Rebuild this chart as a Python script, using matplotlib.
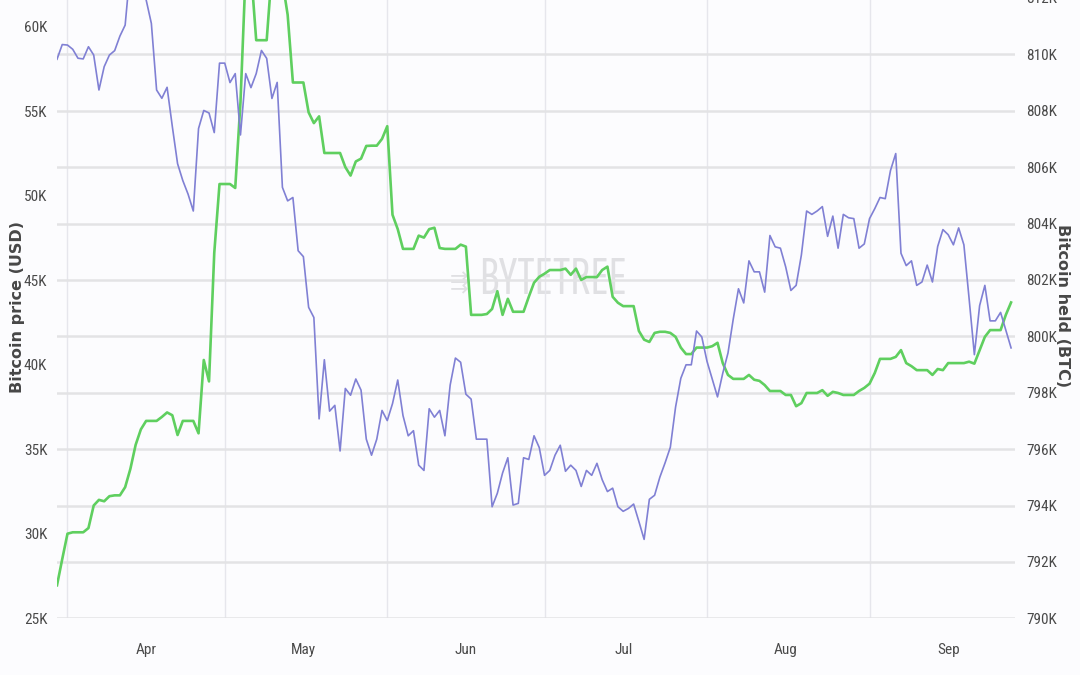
import numpy as np
import matplotlib
matplotlib.use("Agg")
import matplotlib.pyplot as plt
import matplotlib.dates as mdates
from matplotlib.ticker import FixedLocator, FuncFormatter, NullFormatter
from matplotlib.font_manager import FontProperties
from matplotlib import font_manager as fm

# ---------------- data ----------------
start_date = "2021-03-30"
end_date = "2021-09-29"  # exclusive
dates = np.arange(start_date, end_date, dtype="datetime64[D]")

price_k = [
    58.08, 58.95, 58.92, 58.67, 58.14, 58.10, 58.82, 58.33, 56.26, 57.64,
    58.33, 58.59, 59.45, 60.10, 63.5, 62.9, 63.3, 61.6, 60.2, 56.26,
    55.77, 56.42, 54.1, 51.9, 50.9, 50.1, 49.1, 53.98, 55.05, 54.9,
    53.74, 57.85, 57.85, 56.7, 57.23, 53.6, 57.23, 56.4, 57.23, 58.6,
    58.13, 55.76, 56.71, 50.5, 49.7, 49.9, 46.75, 46.4, 43.4, 42.8,
    36.8, 40.3, 37.26, 37.6, 34.9, 38.6, 38.2, 39.16, 38.5, 35.6,
    34.65, 35.6, 37.3, 36.7, 37.7, 39.1, 37.0, 35.8, 36.1, 34.06,
    33.75, 37.4, 36.9, 37.3, 35.8, 38.8, 40.4, 40.15, 38.26, 37.97,
    35.6, 35.6, 35.6, 31.6, 32.4, 33.6, 34.5, 31.7, 31.8, 34.5,
    34.4, 35.8, 35.1, 33.46, 33.75, 34.65, 35.24, 33.7, 34.06, 33.75,
    32.8, 33.75, 33.46, 34.17, 33.2, 32.5, 32.7, 31.6, 31.33, 31.5,
    31.76, 30.73, 29.67, 32.04, 32.28, 33.35, 34.2, 35.12, 37.5, 39.2,
    40.0, 40.0, 42.0, 41.65, 40.2, 39.16, 38.1, 39.5, 40.7, 42.7,
    44.5, 43.66, 46.15, 45.5, 45.5, 44.3, 47.65, 46.98, 46.9, 45.8,
    44.4, 44.7, 46.5, 49.1, 48.9, 49.1, 49.36, 47.6, 48.8, 46.9,
    48.9, 48.7, 48.65, 46.9, 47.15, 48.65, 49.24, 49.9, 49.83, 51.5,
    52.5, 46.6, 45.87, 46.15, 44.7, 44.9, 45.9, 44.9, 47.0, 48.0,
    47.7, 47.1, 48.1, 47.1, 43.9, 40.6, 43.5, 44.7, 42.6, 42.6,
    43.1, 42.05, 41.0,
]

held_k = [
    791.17, 792.1, 793.0, 793.05, 793.05, 793.05, 793.2, 794.0, 794.2, 794.15,
    794.33, 794.36, 794.36, 794.65, 795.3, 796.15, 796.7, 797.0, 797.0, 797.0,
    797.14, 797.3, 797.2, 796.5, 797.0, 797.0, 797.0, 796.56, 799.16, 798.4,
    802.96, 805.4, 805.4, 805.4, 805.26, 808.3, 813.0, 813.0, 810.5, 810.5,
    810.5, 813.0, 813.0, 812.6, 811.4, 809.0, 809.0, 809.0, 807.94, 807.56,
    807.8, 806.5, 806.5, 806.5, 806.5, 806.0, 805.7, 806.2, 806.3, 806.75,
    806.76, 806.76, 807.0, 807.45, 804.31, 803.8, 803.1, 803.1, 803.1, 803.57,
    803.5, 803.8, 803.85, 803.13, 803.1, 803.1, 803.1, 803.25, 803.18, 800.76,
    800.76, 800.76, 800.79, 800.97, 801.6, 800.76, 801.33, 800.87, 800.87, 800.87,
    801.4, 801.9, 802.11, 802.22, 802.35, 802.35, 802.35, 802.4, 802.18, 802.4,
    802.0, 802.1, 802.1, 802.1, 802.35, 802.47, 801.4, 801.19, 801.07, 801.07,
    801.07, 800.19, 799.88, 799.8, 800.12, 800.16, 800.16, 800.12, 799.98, 799.6,
    799.37, 799.37, 799.6, 799.6, 799.6, 799.65, 799.77, 799.05, 798.63, 798.49,
    798.49, 798.49, 798.63, 798.46, 798.42, 798.27, 798.06, 798.06, 798.06, 797.92,
    797.92, 797.52, 797.63, 797.99, 797.99, 797.99, 798.09, 797.89, 798.03, 797.99,
    797.92, 797.92, 797.92, 798.06, 798.17, 798.32, 798.7, 799.2, 799.2, 799.2,
    799.27, 799.51, 799.05, 798.94, 798.8, 798.8, 798.8, 798.63, 798.84, 798.8,
    799.05, 799.05, 799.05, 799.05, 799.1, 799.03, 799.51, 799.98, 800.22, 800.22,
    800.22, 800.76, 801.2,
]

price_ticks_k = [25, 30, 35, 40, 45, 50, 55, 60]
held_ticks_k = [790, 792, 794, 796, 798, 800, 802, 804, 806, 808, 810, 812]
month_starts = ["2021-04-01", "2021-05-01", "2021-06-01", "2021-07-01", "2021-08-01", "2021-09-01"]
month_label_dates = ["2021-04-16", "2021-05-16", "2021-06-16", "2021-07-16", "2021-08-16", "2021-09-16"]
month_labels = ["Apr", "May", "Jun", "Jul", "Aug", "Sep"]
price_title = "Bitcoin price (USD)"
held_title = "Bitcoin held (BTC)"
watermark = "BYTETREE"


# ---------------- fonts ----------------
def pick(cands, **kw):
    for c in cands:
        try:
            fm.findfont(FontProperties(family=c, **kw), fallback_to_default=False)
            return c
        except Exception:
            continue
    return "DejaVu Sans"


TICK_FONT = pick(["Roboto Condensed", "Archivo Narrow", "Barlow Condensed",
                  "Fira Sans Extra Condensed", "Liberation Sans Narrow"])
WM_FONT = pick(["Saira Extra Condensed", "Sofia Sans Extra Condensed", "League Gothic",
                "Fira Sans Extra Condensed", "Barlow Condensed"])

# ---------------- style ----------------
W, H, DPI = 1080, 675, 100
BG = "#fcfcfe"
PURPLE = "#8080d4"
GREEN = "#5fcf5f"
TICK_COLOR = "#4a4a4a"
WM_COLOR = "#e0e0e3"

fig = plt.figure(figsize=(W / DPI, H / DPI), dpi=DPI, facecolor=BG)

# plot area in pixels (top-origin): left 57, right 1015, bottom 618.3, top -30 (cropped view)
left_px, right_px, bottom_px, top_px = 57, 1015, 618.3, -30
ax = fig.add_axes([left_px / W, 1 - bottom_px / H, (right_px - left_px) / W, (bottom_px - top_px) / H])
ax.patch.set_visible(False)
ax2 = ax.twinx()
ax2.patch.set_visible(False)

# held axis (right side, owns horizontal grid)
held_top = 790 + (bottom_px - top_px) / 28.2
ax.set_ylim(790, held_top)
ax.yaxis.tick_right()
ax.yaxis.set_major_locator(FixedLocator(held_ticks_k))
ax.yaxis.set_major_formatter(FuncFormatter(lambda v, p: f"{int(round(v))}K"))
ax.grid(axis="y", color="#e3e3e5", linewidth=1.8, zorder=0)
ax.plot(dates, held_k, color=GREEN, linewidth=1.9, zorder=3, solid_joinstyle="round")

# price axis (left side)
price_top = 25 + (bottom_px - top_px) / 16.9
ax2.set_ylim(25, price_top)
ax2.yaxis.tick_left()
ax2.yaxis.set_major_locator(FixedLocator(price_ticks_k))
ax2.yaxis.set_major_formatter(FuncFormatter(lambda v, p: f"{int(round(v))}K"))
ax2.plot(dates, price_k, color=PURPLE, linewidth=1.2, zorder=3, solid_joinstyle="round")

# x axis
x0 = np.datetime64(start_date, "h")
x1 = x0 + np.timedelta64(int(182.75 * 24), "h")
ax.set_xlim(x0, x1)
ax.xaxis.set_major_locator(FixedLocator(mdates.date2num(np.array(month_starts, dtype="datetime64[D]"))))
ax.xaxis.set_major_formatter(NullFormatter())
ax.xaxis.set_minor_locator(FixedLocator(mdates.date2num(np.array(month_label_dates, dtype="datetime64[D]"))))
ax.xaxis.set_minor_formatter(FuncFormatter(lambda v, p: month_labels[p] if p is not None and p < len(month_labels) else ""))
ax.grid(axis="x", which="major", color="#e6e6ec", linewidth=1.0, zorder=0)
ax.tick_params(axis="x", which="both", length=0, pad=18)
for lab in ax.get_xticklabels(minor=True):
    lab.set_fontfamily([TICK_FONT, "DejaVu Sans"])
    lab.set_fontsize(11)
    lab.set_color(TICK_COLOR)

ax.tick_params(axis="y", length=0, pad=8)
ax2.tick_params(axis="y", length=0, pad=7)
for lab in ax.get_yticklabels() + ax2.get_yticklabels():
    lab.set_fontfamily([TICK_FONT, "DejaVu Sans"])
    lab.set_fontsize(11)
    lab.set_color(TICK_COLOR)

for a in (ax, ax2):
    for s in a.spines.values():
        s.set_visible(False)

# axis titles
fig.text(18 / W, 1 - 307 / H, price_title, rotation=90, ha="center", va="center",
         fontsize=11.5, fontweight="bold", color="#474747", family="DejaVu Sans")
fig.text(1062 / W, 1 - 306 / H, held_title, rotation=-90, ha="center", va="center",
         fontsize=11.5, fontweight="bold", color="#474747", family="DejaVu Sans")

# watermark (light, condensed text in the middle of the plot)
wm = fig.text(553 / W, 1 - 281 / H, watermark, ha="center", va="center",
              fontsize=40, color=WM_COLOR, family=[WM_FONT, "DejaVu Sans"],
              fontweight="light", zorder=-1)
icon = fig.text(459 / W, 1 - 283 / H, "\u21f6", ha="center", va="center",
                fontsize=16, color=WM_COLOR, family="DejaVu Sans", zorder=-1)
fig.canvas.draw()
r = fig.canvas.get_renderer()
bb = wm.get_window_extent(r)
wm.set_fontsize(40 * 148 / bb.width)

fig.savefig("out.png", dpi=DPI, facecolor=BG)
